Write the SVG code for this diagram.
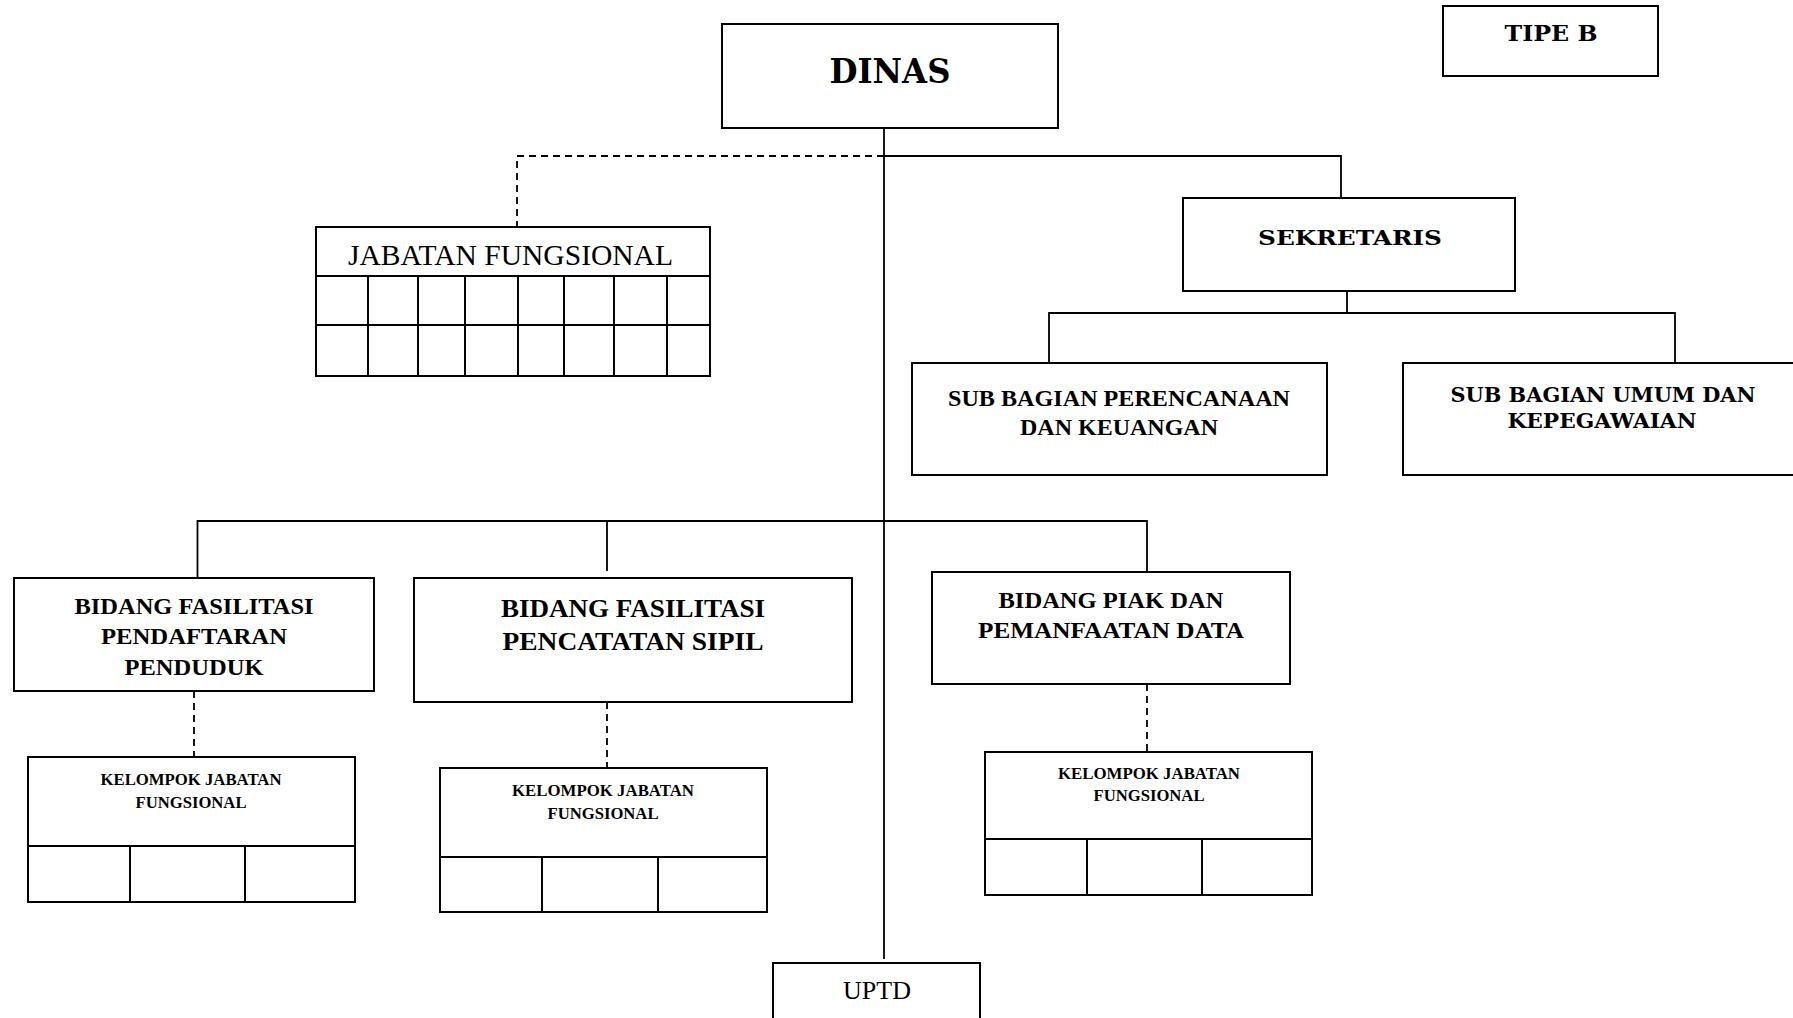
<svg xmlns="http://www.w3.org/2000/svg" width="1793" height="1018" viewBox="0 0 1793 1018">
<style>
.box{fill:#fff;stroke:#000;stroke-width:2}
.grid{fill:none;stroke:#000;stroke-width:2}
.ln{fill:none;stroke:#000;stroke-width:1.8}
.dash{fill:none;stroke:#000;stroke-width:1.8;stroke-dasharray:7 5}
.bk{font-family:"DejaVu Serif",serif;font-weight:bold;fill:#000;text-anchor:middle}
.cb{font-family:"Liberation Serif",serif;font-weight:bold;fill:#000;text-anchor:middle}
.rg{font-family:"Liberation Serif",serif;fill:#000;text-anchor:middle}
</style>
<rect width="1793" height="1018" fill="#fff"/>
<g id="connectors">
<path class="ln" d="M884 124V959"/>
<path class="dash" d="M884 156H517V227"/>
<path class="ln" d="M884 156H1341V198"/>
<path class="ln" d="M1347 291V313M1049 363V313H1675V363"/>
<path class="ln" d="M197.5 577V521H1147V572M607 521V571"/>
<path class="dash" d="M194 691V757M607 702V768M1147 684V752"/>
</g>
<g id="tipe-b">
<rect class="box" x="1443" y="6" width="215" height="70"/>
<text class="bk" x="1551" y="41" font-size="23" textLength="93" lengthAdjust="spacingAndGlyphs">TIPE B</text>
</g>
<g id="dinas">
<rect class="box" x="722" y="24" width="336" height="104"/>
<text class="bk" x="890" y="83" font-size="33" textLength="121" lengthAdjust="spacingAndGlyphs">DINAS</text>
</g>
<g id="jabatan-fungsional">
<rect class="box" x="316" y="227" width="394" height="149"/>
<path class="grid" d="M316 276H710M316 325H710M368 276V376M418 276V376M465 276V376M518 276V376M564 276V376M614 276V376M667 276V376"/>
<text class="rg" x="510.5" y="265" font-size="29" textLength="325" lengthAdjust="spacingAndGlyphs">JABATAN FUNGSIONAL</text>
</g>
<g id="sekretaris">
<rect class="box" x="1183" y="198" width="332" height="93"/>
<text class="bk" x="1350" y="245" font-size="21" textLength="184" lengthAdjust="spacingAndGlyphs">SEKRETARIS</text>
</g>
<g id="subbag-perencanaan">
<rect class="box" x="912" y="363" width="415" height="112"/>
<text class="cb" x="1119" y="406" font-size="24" textLength="342" lengthAdjust="spacingAndGlyphs">SUB BAGIAN PERENCANAAN</text>
<text class="cb" x="1119" y="435" font-size="24" textLength="198" lengthAdjust="spacingAndGlyphs">DAN KEUANGAN</text>
</g>
<g id="subbag-umum">
<rect class="box" x="1403" y="363" width="400" height="112"/>
<text class="bk" x="1603" y="402" font-size="21" textLength="305" lengthAdjust="spacingAndGlyphs">SUB BAGIAN UMUM DAN</text>
<text class="bk" x="1602" y="428" font-size="21" textLength="189" lengthAdjust="spacingAndGlyphs">KEPEGAWAIAN</text>
</g>
<g id="bidang-pendaftaran">
<rect class="box" x="14" y="578" width="360" height="113"/>
<text class="cb" x="194" y="614" font-size="23" textLength="239" lengthAdjust="spacingAndGlyphs">BIDANG FASILITASI</text>
<text class="cb" x="194" y="644" font-size="23" textLength="186" lengthAdjust="spacingAndGlyphs">PENDAFTARAN</text>
<text class="cb" x="194" y="675" font-size="23" textLength="139" lengthAdjust="spacingAndGlyphs">PENDUDUK</text>
</g>
<g id="bidang-pencatatan">
<rect class="box" x="414" y="578" width="438" height="124"/>
<text class="cb" x="633" y="617" font-size="26" textLength="264" lengthAdjust="spacingAndGlyphs">BIDANG FASILITASI</text>
<text class="cb" x="633" y="650" font-size="26" textLength="261" lengthAdjust="spacingAndGlyphs">PENCATATAN SIPIL</text>
</g>
<g id="bidang-piak">
<rect class="box" x="932" y="572" width="358" height="112"/>
<text class="cb" x="1111" y="608" font-size="24" textLength="225" lengthAdjust="spacingAndGlyphs">BIDANG PIAK DAN</text>
<text class="cb" x="1111" y="638" font-size="24" textLength="266" lengthAdjust="spacingAndGlyphs">PEMANFAATAN DATA</text>
</g>
<g id="kjf-1">
<rect class="box" x="28" y="757" width="327" height="145"/>
<path class="grid" d="M28 846H355M130 846V902M245 846V902"/>
<text class="cb" x="191" y="785" font-size="17" textLength="181" lengthAdjust="spacingAndGlyphs">KELOMPOK JABATAN</text>
<text class="cb" x="191" y="808" font-size="17" textLength="111" lengthAdjust="spacingAndGlyphs">FUNGSIONAL</text>
</g>
<g id="kjf-2">
<rect class="box" x="440" y="768" width="327" height="144"/>
<path class="grid" d="M440 857H767M542 857V912M658 857V912"/>
<text class="cb" x="603" y="796" font-size="17" textLength="182" lengthAdjust="spacingAndGlyphs">KELOMPOK JABATAN</text>
<text class="cb" x="603" y="819" font-size="17" textLength="111" lengthAdjust="spacingAndGlyphs">FUNGSIONAL</text>
</g>
<g id="kjf-3">
<rect class="box" x="985" y="752" width="327" height="143"/>
<path class="grid" d="M985 839H1312M1087 839V895M1202 839V895"/>
<text class="cb" x="1149" y="779" font-size="17" textLength="182" lengthAdjust="spacingAndGlyphs">KELOMPOK JABATAN</text>
<text class="cb" x="1149" y="801" font-size="17" textLength="111" lengthAdjust="spacingAndGlyphs">FUNGSIONAL</text>
</g>
<g id="uptd">
<rect class="box" x="773" y="963" width="207" height="70"/>
<text class="rg" x="877" y="999" font-size="26">UPTD</text>
</g>
</svg>
